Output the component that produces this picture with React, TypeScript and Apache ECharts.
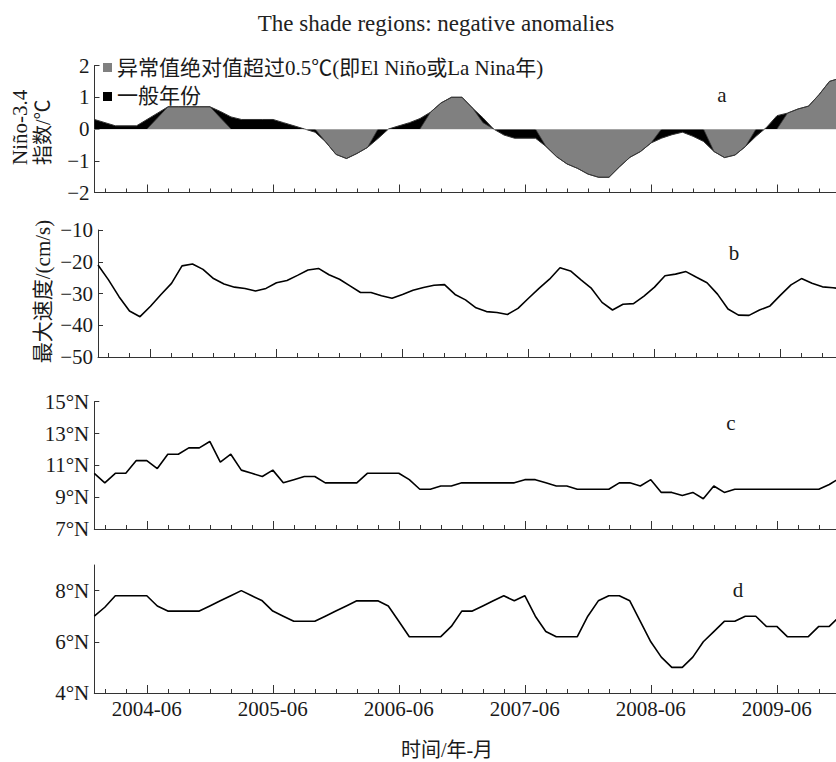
import { useEffect, useRef } from "react";
import * as echarts from "echarts";

const months = [
  "2004-01", "2004-02", "2004-03", "2004-04", "2004-05", "2004-06", "2004-07", "2004-08", "2004-09", "2004-10", "2004-11", "2004-12",
  "2005-01", "2005-02", "2005-03", "2005-04", "2005-05", "2005-06", "2005-07", "2005-08", "2005-09", "2005-10", "2005-11", "2005-12",
  "2006-01", "2006-02", "2006-03", "2006-04", "2006-05", "2006-06", "2006-07", "2006-08", "2006-09", "2006-10", "2006-11", "2006-12",
  "2007-01", "2007-02", "2007-03", "2007-04", "2007-05", "2007-06", "2007-07", "2007-08", "2007-09", "2007-10", "2007-11", "2007-12",
  "2008-01", "2008-02", "2008-03", "2008-04", "2008-05", "2008-06", "2008-07", "2008-08", "2008-09", "2008-10", "2008-11", "2008-12",
  "2009-01", "2009-02", "2009-03", "2009-04", "2009-05", "2009-06", "2009-07", "2009-08", "2009-09", "2009-10", "2009-11", "2009-12",
];

// Panel a: Niño-3.4 index (°C)
const ninoIndex = [
  0.3, 0.2, 0.1, 0.1, 0.1, 0.3, 0.5, 0.7, 0.7, 0.7, 0.7, 0.7,
  0.55, 0.38, 0.3, 0.3, 0.3, 0.3, 0.2, 0.1, 0.0, -0.1, -0.4, -0.8,
  -0.93, -0.77, -0.58, -0.3, 0.0, 0.1, 0.2, 0.33, 0.53, 0.82, 1.0, 1.0,
  0.66, 0.35, 0.0, -0.19, -0.29, -0.29, -0.29, -0.55, -0.87, -1.1, -1.24, -1.42,
  -1.52, -1.52, -1.19, -0.89, -0.71, -0.44, -0.29, -0.18, -0.1, -0.23, -0.39, -0.71,
  -0.9, -0.82, -0.55, -0.23, 0.05, 0.42, 0.5, 0.63, 0.72, 1.08, 1.5, 1.6,
];

// Panel a: shaded anomaly regions (|value| > 0.5 °C)
const anomalyShade = [
  null, null, null, null, null, 0, 0.35, 0.7, 0.7, 0.7, 0.7, 0.7,
  0.35, 0, null, null, null, null, null, null, null, 0, -0.4, -0.8,
  -0.93, -0.77, -0.58, 0, null, null, null, 0, 0.53, 0.82, 1.0, 1.0,
  0.66, 0.2, 0, null, null, null, 0, -0.55, -0.87, -1.1, -1.24, -1.42,
  -1.52, -1.52, -1.19, -0.89, -0.71, -0.44, 0, null, null, null, 0, -0.71,
  -0.9, -0.82, -0.55, 0, null, 0, 0.5, 0.63, 0.72, 1.08, 1.5, 1.6,
];

// Panel b: maximum velocity (cm/s)
const maxSpeed = [
  -21.0, -25.7, -31.0, -35.5, -37.3, -34.0, -30.3, -26.8, -21.3, -20.7, -22.4, -25.3,
  -27.0, -28.0, -28.4, -29.2, -28.4, -26.6, -25.9, -24.3, -22.6, -22.1, -24.1, -25.5,
  -27.6, -29.7, -29.7, -30.7, -31.5, -30.3, -29.0, -28.1, -27.4, -27.2, -30.3, -32.0,
  -34.5, -35.7, -36.0, -36.6, -34.7, -31.5, -28.4, -25.5, -21.9, -22.9, -25.7, -28.4,
  -32.8, -35.2, -33.4, -33.2, -30.8, -28.0, -24.4, -23.9, -23.1, -24.9, -26.6, -30.2,
  -34.9, -36.8, -36.9, -35.2, -33.9, -30.5, -27.3, -25.3, -26.8, -27.9, -28.2, -28.6,
];

// Panel c: latitude (°N)
const latC = [
  10.5, 9.9, 10.5, 10.5, 11.3, 11.3, 10.8, 11.7, 11.7, 12.1, 12.1, 12.5,
  11.2, 11.7, 10.7, 10.5, 10.3, 10.7, 9.9, 10.1, 10.3, 10.3, 9.9, 9.9,
  9.9, 9.9, 10.5, 10.5, 10.5, 10.5, 10.1, 9.5, 9.5, 9.7, 9.7, 9.9,
  9.9, 9.9, 9.9, 9.9, 9.9, 10.1, 10.1, 9.9, 9.7, 9.7, 9.5, 9.5,
  9.5, 9.5, 9.9, 9.9, 9.7, 10.1, 9.3, 9.3, 9.1, 9.3, 8.9, 9.7,
  9.3, 9.5, 9.5, 9.5, 9.5, 9.5, 9.5, 9.5, 9.5, 9.5, 9.8, 10.2,
];

// Panel d: latitude (°N)
const latD = [
  7.0, 7.35, 7.8, 7.8, 7.8, 7.8, 7.4, 7.2, 7.2, 7.2, 7.2, 7.4,
  7.6, 7.8, 8.0, 7.8, 7.6, 7.2, 7.0, 6.8, 6.8, 6.8, 7.0, 7.2,
  7.4, 7.6, 7.6, 7.6, 7.4, 6.8, 6.2, 6.2, 6.2, 6.2, 6.6, 7.2,
  7.2, 7.4, 7.6, 7.8, 7.6, 7.8, 7.0, 6.4, 6.2, 6.2, 6.2, 7.0,
  7.6, 7.8, 7.8, 7.6, 6.8, 6.0, 5.4, 5.0, 5.0, 5.4, 6.0, 6.4,
  6.8, 6.8, 7.0, 7.0, 6.6, 6.6, 6.2, 6.2, 6.2, 6.6, 6.6, 7.0,
];

const latCTicks = [7, 9, 11, 13, 15];
const latDTicks = [4, 6, 8];

const SERIF = "'Liberation Serif', 'Times New Roman', 'Noto Sans CJK SC', serif";
const INK = "#1a1a1a";
const AXIS = "#333";

const minus = (v: number) => (v < 0 ? "\u2212" + String(-v) : String(v));

export default function App() {
  const ref = useRef<HTMLDivElement>(null);

  useEffect(() => {
    if (!ref.current) return;
    const chart = echarts.init(ref.current, undefined, { renderer: "svg" });

    const W = 745.5;
    const grids = [
      { left: 94.5, top: 65.5, width: W, height: 127 },
      { left: 98, top: 230, width: W, height: 127 },
      { left: 94.3, top: 401.7, width: W, height: 127.3 },
      { left: 94.3, top: 565, width: W, height: 128 },
    ].map((g) => ({ ...g, containLabel: false, outerBoundsMode: "none" }));

    const xAxes: any[] = [];
    grids.forEach((_, g) => {
      xAxes.push({
        type: "category",
        gridIndex: g,
        data: months,
        boundaryGap: false,
        position: "bottom",
        axisLine: { onZero: false, lineStyle: { color: AXIS, width: 1 } },
        axisTick: {
          inside: true,
          length: 4,
          interval: (i: number) => i % 2 === 1 && i % 12 !== 5,
          lineStyle: { color: AXIS },
        },
        axisLabel:
          g === 3
            ? {
                interval: (i: number) => i % 12 === 5,
                fontFamily: SERIF,
                fontSize: 21,
                color: INK,
                margin: 5,
              }
            : { show: false },
        splitLine: { show: false },
      });
      xAxes.push({
        type: "category",
        gridIndex: g,
        data: months,
        boundaryGap: false,
        position: "bottom",
        axisLine: { show: false, onZero: false },
        axisTick: {
          inside: true,
          length: 8,
          interval: (i: number) => i % 12 === 5,
          lineStyle: { color: AXIS },
        },
        axisLabel: { show: false },
        splitLine: { show: false },
      });
    });

    const yBase = {
      type: "value",
      axisLine: { show: true, onZero: false, lineStyle: { color: AXIS, width: 1 } },
      axisTick: { show: true, inside: true, length: 5, lineStyle: { color: AXIS } },
      splitLine: { show: false },
    };
    const yLabel = { fontFamily: SERIF, fontSize: 21, color: INK, margin: 5 };

    const yAxes = [
      { ...yBase, gridIndex: 0, min: -2, max: 2, interval: 1, axisLabel: { ...yLabel, formatter: minus } },
      { ...yBase, gridIndex: 1, min: -50, max: -10, interval: 10, axisLabel: { ...yLabel, formatter: minus } },
      {
        ...yBase,
        gridIndex: 2,
        min: 7,
        max: 15,
        axisTick: { ...yBase.axisTick, customValues: latCTicks },
        axisLabel: { ...yLabel, customValues: latCTicks, formatter: (v: number) => `${v}°N` },
      },
      {
        ...yBase,
        gridIndex: 3,
        min: 4,
        max: 9,
        axisTick: { ...yBase.axisTick, customValues: latDTicks },
        axisLabel: { ...yLabel, customValues: latDTicks, formatter: (v: number) => `${v}°N` },
      },
    ];

    const shadeName = "异常值绝对值超过0.5℃(即El Niño或La Nina年)";
    const normalName = "一般年份";

    const text = (t: string, x: number, y: number, extra: any = {}) => ({
      type: "text",
      x,
      y,
      silent: true,
      ...extra,
      style: {
        text: t,
        fill: INK,
        font: `21px ${SERIF}`,
        align: "center",
        verticalAlign: "middle",
        ...(extra.style || {}),
      },
    });

    chart.setOption({
      animation: false,
      backgroundColor: "#fff",
      title: {
        text: "The shade regions: negative anomalies",
        left: 431,
        top: 7,
        textAlign: "center",
        textStyle: { fontFamily: SERIF, fontSize: 23, fontWeight: "normal", color: "#222" },
      },
      legend: {
        orient: "vertical",
        left: 103,
        top: 57,
        padding: 0,
        itemGap: 8,
        itemWidth: 9,
        itemHeight: 9,
        icon: "rect",
        data: [shadeName, normalName],
        textStyle: { fontFamily: SERIF, fontSize: 21, color: INK, lineHeight: 20 },
      },
      grid: grids,
      xAxis: xAxes,
      yAxis: yAxes,
      series: [
        {
          name: normalName,
          type: "line",
          xAxisIndex: 0,
          yAxisIndex: 0,
          data: ninoIndex,
          symbol: "none",
          lineStyle: { color: "#333", width: 1 },
          itemStyle: { color: "#000" },
          areaStyle: { color: "#000", opacity: 1 },
        },
        {
          name: shadeName,
          type: "line",
          xAxisIndex: 0,
          yAxisIndex: 0,
          data: anomalyShade,
          symbol: "none",
          connectNulls: false,
          lineStyle: { color: "#3a3a3a", width: 0.8 },
          itemStyle: { color: "#808080" },
          areaStyle: { color: "#808080", opacity: 1 },
          markLine: {
            silent: true,
            symbol: "none",
            label: { show: false },
            lineStyle: { type: "dotted", color: "#c8c8c8", width: 1 },
            data: [{ yAxis: 0 }],
          },
        },
        {
          name: "最大速度",
          type: "line",
          xAxisIndex: 2,
          yAxisIndex: 1,
          data: maxSpeed,
          symbol: "none",
          lineStyle: { color: "#000", width: 1.6 },
        },
        {
          name: "纬度c",
          type: "line",
          xAxisIndex: 4,
          yAxisIndex: 2,
          data: latC,
          symbol: "none",
          lineStyle: { color: "#000", width: 1.6 },
        },
        {
          name: "纬度d",
          type: "line",
          xAxisIndex: 6,
          yAxisIndex: 3,
          data: latD,
          symbol: "none",
          lineStyle: { color: "#000", width: 1.6 },
        },
      ],
      graphic: [
        text("Niño-3.4", 20, 165, { rotation: Math.PI / 2, style: { align: "left" } }),
        text("指数/℃", 43, 165, { rotation: Math.PI / 2, style: { align: "left", font: `20px ${SERIF}` } }),
        text("最大速度/(cm/s)", 43, 291.5, { rotation: Math.PI / 2, style: { font: `21px ${SERIF}` } }),
        text("a", 722, 95),
        text("b", 734, 253),
        text("c", 731, 423),
        text("d", 738, 590),
        text("时间/年-月", 447, 750, { style: { font: `20px ${SERIF}` } }),
      ],
    });

    return () => chart.dispose();
  }, []);

  return (
    <div
      ref={ref}
      style={{ position: "absolute", left: 0, top: 0, width: 836, height: 762 }}
    />
  );
}
